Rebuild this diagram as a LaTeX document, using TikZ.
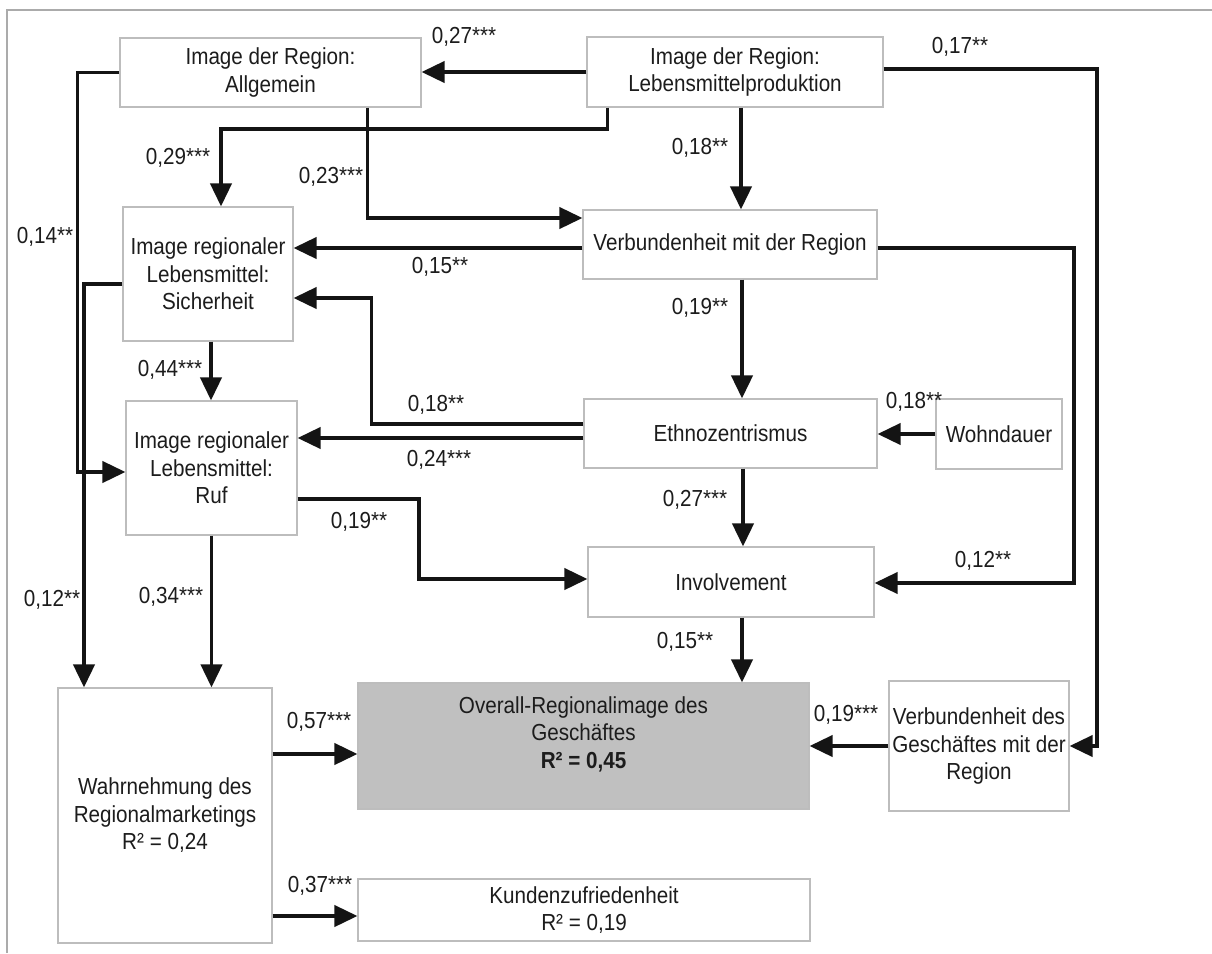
\documentclass[tikz,border=0pt]{standalone}
\usepackage{fontspec}
\setmainfont{Liberation Sans}[FakeStretch=0.89]
\usetikzlibrary{arrows.meta}
\definecolor{boxline}{HTML}{BDBDBD}
\definecolor{framec}{HTML}{ABABAB}
\definecolor{fillgray}{HTML}{C0C0C0}
\definecolor{ink}{HTML}{1C1C1C}
\begin{document}
\begin{tikzpicture}[x=1pt, y=-1pt,
  font=\fontsize{23.2}{27.5}\selectfont,
  box/.style={draw=boxline, line width=1.1pt, fill=white, align=center,
              inner sep=0pt, text=ink},
  arr/.style={-{Triangle[length=23pt,width=21pt]}, line width=3.9pt,
              line join=miter, draw=black!92},
  coef/.style={text=ink, inner sep=0pt}]

\useasboundingbox (0,0) rectangle (1212,953);
\fill[white] (0,0) rectangle (1212,953);

% outer frame (open towards right and bottom)
\draw[framec, line width=1.2pt] (7,953) -- (7,10) -- (1212,10);

% constructs
\node[box, minimum width=301pt, minimum height=69pt] (allg) at (270.5,72.5)
  {Image der Region:\\Allgemein};
\node[box, minimum width=296pt, minimum height=70pt] (lmp) at (735,72)
  {Image der Region:\\Lebensmittelproduktion};
\node[box, minimum width=170pt, minimum height=134pt] (sich) at (208,274)
  {Image regionaler\\Lebensmittel:\\Sicherheit};
\node[box, minimum width=294pt, minimum height=69pt] (vmr) at (730,244.5)
  {Verbundenheit mit der Region};
\node[box, minimum width=171pt, minimum height=134pt] (ruf) at (211.5,468)
  {Image regionaler\\Lebensmittel:\\Ruf};
\node[box, minimum width=293pt, minimum height=69pt] (ethno) at (730.5,433.5)
  {Ethnozentrismus};
\node[box, minimum width=126pt, minimum height=70pt] (wohn) at (999,434)
  {Wohndauer};
\node[box, minimum width=286pt, minimum height=70pt] (inv) at (731,582)
  {Involvement};
\node[box, minimum width=214pt, minimum height=255pt] (wahr) at (165,815.5)
  {Wahrnehmung des\\Regionalmarketings\\R² = 0,24};
\node[box, fill=fillgray, minimum width=451pt, minimum height=126pt] (overall) at (583.5,746)
  {Overall-Regionalimage des\\Geschäftes\\\textbf{R² = 0,45}\\\mbox{}};
\node[box, minimum width=180pt, minimum height=130pt] (vgr) at (979,746)
  {Verbundenheit des\\Geschäftes mit der\\Region};
\node[box, minimum width=452pt, minimum height=62pt] (kund) at (584,910)
  {Kundenzufriedenheit\\R² = 0,19};

% paths
\draw[arr] (lmp.west) -- (lmp.west -| allg.east);
\draw[arr] ([xshift=21pt]lmp.south west) -- ++(0,21) -| ([xshift=13pt]sich.north);
\draw[arr] ([xshift=248pt]allg.south west) |- ([yshift=26.5pt]vmr.west);
\draw[arr] ([xshift=6pt]lmp.south) -- ([xshift=11pt]vmr.north);
\draw[arr] ([yshift=3pt]lmp.east) -| ([xshift=27pt]vgr.east) -- (vgr.east);
\draw[arr] (allg.west) -- ++(-42,0) |- ([yshift=-4pt]ruf.west);
\draw[arr] ([yshift=-10pt]sich.west) -| ([xshift=-81pt]wahr.north);
\draw[arr] ([yshift=-3.5pt]vmr.west) -- ([yshift=-3.5pt]vmr.west -| sich.east);
\draw[arr] ([yshift=9.5pt]ethno.west) -- ++(-212,0) |- ([yshift=-24pt]sich.east);
\draw[arr] ([yshift=-4.5pt]ethno.west) -- ([yshift=-4.5pt]ethno.west -| ruf.east);
\draw[arr] ([xshift=12pt]vmr.south) -- ([xshift=12pt]vmr.south |- ethno.north);
\draw[arr] ([yshift=-3.5pt]vmr.east) -| ([xshift=199pt,yshift=-1pt]inv.east) -- ([yshift=-1pt]inv.east);
\draw[arr] (wohn.west) -- (wohn.west -| ethno.east);
\draw[arr] ([xshift=12.5pt]ethno.south) -- ([xshift=12.5pt]ethno.south |- inv.north);
\draw[arr] ([yshift=-31pt]ruf.east) -- ++(121,0) |- ([yshift=3pt]inv.west);
\draw[arr] ([xshift=3pt]sich.south) -- ([xshift=3pt]sich.south |- ruf.north);
\draw[arr] (ruf.south) -- (ruf.south |- wahr.north);
\draw[arr] ([xshift=11pt]inv.south) -- ([xshift=11pt]inv.south |- overall.north);
\draw[arr] (vgr.west) -- (vgr.west -| overall.east);
\draw[arr] ([yshift=61.5pt]wahr.east) -- ([yshift=61.5pt]wahr.east -| overall.west);
\draw[arr] ([yshift=-100.5pt]wahr.east) -- ([yshift=-100.5pt]wahr.east -| kund.west);

% path coefficients
\node[coef] (c1)  at (464,37)  {0,27***};
\node[coef] (c2)  at (178,158) {0,29***};
\node[coef] (c3)  at (331,177) {0,23***};
\node[coef] (c4)  at (700,148) {0,18**};
\node[coef] (c5)  at (960,47)  {0,17**};
\node[coef] (c6)  at (45,237)  {0,14**};
\node[coef] (c7)  at (52,600)  {0,12**};
\node[coef] (c8)  at (440,267) {0,15**};
\node[coef] (c9)  at (436,405) {0,18**};
\node[coef] (c10) at (439,460) {0,24***};
\node[coef] (c11) at (700,308) {0,19**};
\node[coef] (c12) at (983,561) {0,12**};
\node[coef] (c13) at (914,402) {0,18**};
\node[coef] (c14) at (695,500) {0,27***};
\node[coef] (c15) at (359,522) {0,19**};
\node[coef] (c16) at (171,597) {0,34***};
\node[coef] (c17) at (170,370) {0,44***};
\node[coef] (c18) at (685,642) {0,15**};
\node[coef] (c19) at (846,715) {0,19***};
\node[coef] (c20) at (319,722) {0,57***};
\node[coef] (c21) at (320,886) {0,37***};
\end{tikzpicture}
\end{document}
